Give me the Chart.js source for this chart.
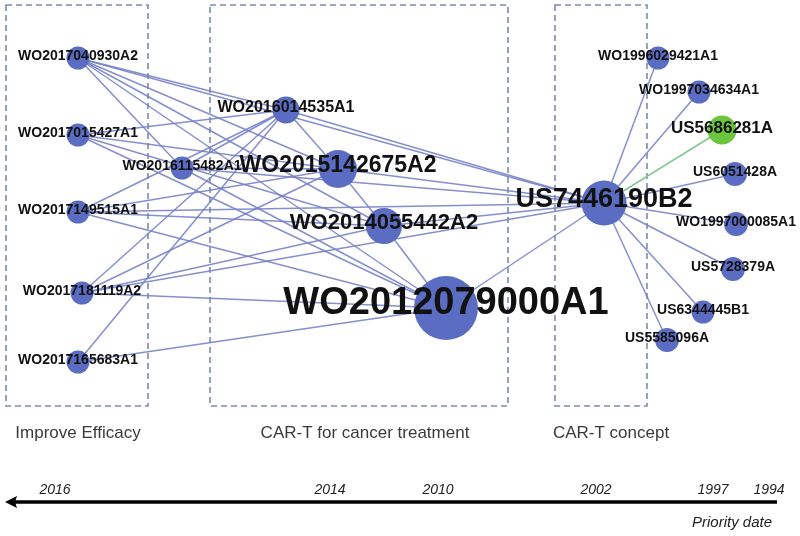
<!DOCTYPE html>
<html>
<head>
<meta charset="utf-8">
<title>CAR-T patent citation network</title>
<script src="https://cdn.jsdelivr.net/npm/chart.js@4.4.1/dist/chart.umd.min.js"></script>
<style>
  html, body { margin: 0; padding: 0; background: #fff; }
  #wrap { width: 800px; height: 536px; }
</style>
</head>
<body>
<div id="wrap"><canvas id="myChart" width="800" height="536"></canvas></div>
<script>
// nodes (x / y in layout units, size = node weight)
let nodeNames = [
    'WO2017040930A2', 'WO2017015427A1', 'WO2017149515A1', 'WO2017181119A2', 'WO2017165683A1',
    'WO2016115482A1', 'WO2016014535A1', 'WO2015142675A2', 'WO2014055442A2', 'WO2012079000A1',
    'US7446190B2',
    'WO1996029421A1', 'WO1997034634A1', 'US5686281A', 'US6051428A', 'WO1997000085A1',
    'US5728379A', 'US6344445B1', 'US5585096A'
];
let nodeX = [78, 78, 78, 82, 78, 182, 286, 338, 384, 446, 604, 658, 699, 722, 735, 736, 733, 703, 667];
let nodeY = [58, 135, 212, 293, 362, 168, 110, 169, 226, 308, 203, 58, 92, 130, 174, 224, 269, 312, 340];
let nodeSize = [11.5, 11.5, 11.5, 11.5, 11.5, 11.5, 13.5, 19, 18, 32, 22.5, 11.5, 11.5, 14.5, 12, 12, 12, 11.5, 12];
let highlightNode = 'US5686281A';

// citation links
let edgeFrom = [
    'WO2017040930A2', 'WO2017040930A2', 'WO2017040930A2', 'WO2017040930A2', 'WO2017040930A2', 'WO2017040930A2',
    'WO2017015427A1', 'WO2017015427A1', 'WO2017015427A1', 'WO2017015427A1',
    'WO2017149515A1', 'WO2017149515A1', 'WO2017149515A1', 'WO2017149515A1', 'WO2017149515A1',
    'WO2017181119A2', 'WO2017181119A2', 'WO2017181119A2', 'WO2017181119A2', 'WO2017181119A2',
    'WO2017165683A1', 'WO2017165683A1',
    'WO2016115482A1', 'WO2016115482A1', 'WO2016115482A1', 'WO2016115482A1',
    'WO2016014535A1', 'WO2016014535A1',
    'WO2015142675A2', 'WO2015142675A2',
    'WO2014055442A2', 'WO2014055442A2',
    'WO2012079000A1',
    'US7446190B2', 'US7446190B2', 'US7446190B2', 'US7446190B2',
    'US7446190B2', 'US7446190B2', 'US7446190B2', 'US7446190B2'
];
let edgeTo = [
    'WO2016014535A1', 'WO2015142675A2', 'WO2014055442A2', 'WO2012079000A1', 'US7446190B2', 'WO2016115482A1',
    'WO2016014535A1', 'WO2015142675A2', 'WO2014055442A2', 'WO2012079000A1',
    'WO2016014535A1', 'WO2015142675A2', 'WO2014055442A2', 'WO2012079000A1', 'US7446190B2',
    'WO2016014535A1', 'WO2015142675A2', 'WO2014055442A2', 'WO2012079000A1', 'US7446190B2',
    'WO2016014535A1', 'WO2012079000A1',
    'WO2016014535A1', 'WO2015142675A2', 'WO2012079000A1', 'US7446190B2',
    'WO2015142675A2', 'US7446190B2',
    'WO2014055442A2', 'US7446190B2',
    'WO2012079000A1', 'US7446190B2',
    'US7446190B2',
    'WO1996029421A1', 'WO1997034634A1', 'US5686281A', 'US6051428A',
    'WO1997000085A1', 'US5728379A', 'US6344445B1', 'US5585096A'
];

let groupLabels = ['Improve Efficacy', 'CAR-T for cancer treatment', 'CAR-T concept'];
let yearLabels = ['2016', '2014', '2010', '2002', '1997', '1994'];
let yearX = [55, 330, 438, 596, 713, 769];
let axisTitle = 'Priority date';

// layout of the decorations
const boxes = [[6, 5, 148, 406], [210, 5, 508, 406], [555, 5, 647, 406]];
const groupLabelX = [78, 365, 611];

const nodeBlue = '#5a6dc2';
const nodeGreen = '#6cc43f';
const edgeBlue = 'rgba(116,128,198,0.88)';
const edgeGreen = '#82c793';

function idx(name) {
    return nodeNames.indexOf(name);
}

let nodePoints = nodeNames.map((n, i) => ({ x: nodeX[i], y: nodeY[i], r: nodeSize[i] }));
let nodeColors = nodeNames.map(n => n == highlightNode ? nodeGreen : nodeBlue);

let edgeSets = edgeFrom.map((from, i) => {
    let a = idx(from);
    let b = idx(edgeTo[i]);
    return {
        type: 'line',
        data: [{ x: nodeX[a], y: nodeY[a] }, { x: nodeX[b], y: nodeY[b] }],
        borderColor: edgeTo[i] == highlightNode ? edgeGreen : edgeBlue,
        borderWidth: 1.5,
        pointRadius: 0,
        pointHoverRadius: 0,
        fill: false,
        order: 2
    };
});

const extras = {
    id: 'extras',
    beforeDatasetsDraw(chart) {
        const ctx = chart.ctx;
        const x = chart.scales.x;
        const y = chart.scales.y;
        ctx.save();

        // dashed group boxes
        ctx.strokeStyle = '#7b8bb0';
        ctx.lineWidth = 1.6;
        ctx.setLineDash([6, 4]);
        boxes.forEach(b => {
            let x0 = x.getPixelForValue(b[0]), y0 = y.getPixelForValue(b[1]);
            let x1 = x.getPixelForValue(b[2]), y1 = y.getPixelForValue(b[3]);
            ctx.strokeRect(x0, y0, x1 - x0, y1 - y0);
        });
        ctx.setLineDash([]);

        // group names
        ctx.fillStyle = '#3a3a3a';
        ctx.font = '17px "Liberation Sans", Arial, sans-serif';
        ctx.textAlign = 'center';
        ctx.textBaseline = 'middle';
        groupLabels.forEach((g, i) => {
            ctx.fillText(g, x.getPixelForValue(groupLabelX[i]), y.getPixelForValue(433));
        });

        // time arrow
        let ay = y.getPixelForValue(502);
        let ax0 = x.getPixelForValue(14);
        let ax1 = x.getPixelForValue(777);
        ctx.strokeStyle = '#000';
        ctx.lineWidth = 3.5;
        ctx.beginPath();
        ctx.moveTo(ax0, ay);
        ctx.lineTo(ax1, ay);
        ctx.stroke();
        ctx.fillStyle = '#000';
        ctx.beginPath();
        ctx.moveTo(x.getPixelForValue(5), ay);
        ctx.lineTo(x.getPixelForValue(17), ay - 6);
        ctx.lineTo(x.getPixelForValue(15), ay);
        ctx.lineTo(x.getPixelForValue(17), ay + 6);
        ctx.closePath();
        ctx.fill();

        ctx.fillStyle = '#222';
        ctx.font = 'italic 14px "Liberation Sans", Arial, sans-serif';
        yearLabels.forEach((yr, i) => {
            ctx.fillText(yr, x.getPixelForValue(yearX[i]), y.getPixelForValue(490));
        });
        ctx.font = 'italic 15px "Liberation Sans", Arial, sans-serif';
        ctx.fillText(axisTitle, x.getPixelForValue(732), y.getPixelForValue(523));
        ctx.restore();
    },
    afterDatasetsDraw(chart) {
        const ctx = chart.ctx;
        const x = chart.scales.x;
        const y = chart.scales.y;
        ctx.save();
        ctx.fillStyle = '#111';
        ctx.textAlign = 'center';
        ctx.textBaseline = 'middle';
        nodeNames.forEach((n, i) => {
            let fs = Math.round(nodeSize[i] * 1.2);
            ctx.font = 'bold ' + fs + 'px "Liberation Sans", Arial, sans-serif';
            ctx.fillText(n, x.getPixelForValue(nodeX[i]), y.getPixelForValue(nodeY[i] - nodeSize[i] * 0.15));
        });
        ctx.restore();
    }
};

const ctx = document.getElementById('myChart');

new Chart(ctx, {
    type: 'bubble',
    data: {
        datasets: [{
            label: 'patents',
            data: nodePoints,
            backgroundColor: nodeColors,
            borderWidth: 0,
            hoverRadius: 0,
            clip: false,
            order: 1
        }].concat(edgeSets)
    },
    options: {
        responsive: false,
        animation: false,
        devicePixelRatio: 1,
        layout: { padding: 0, autoPadding: false },
        events: [],
        plugins: {
            legend: { display: false },
            tooltip: { enabled: false }
        },
        scales: {
            x: { type: 'linear', min: 0, max: 800, display: false },
            y: { type: 'linear', min: 0, max: 536, reverse: true, display: false }
        }
    },
    plugins: [extras]
});
</script>
</body>
</html>
